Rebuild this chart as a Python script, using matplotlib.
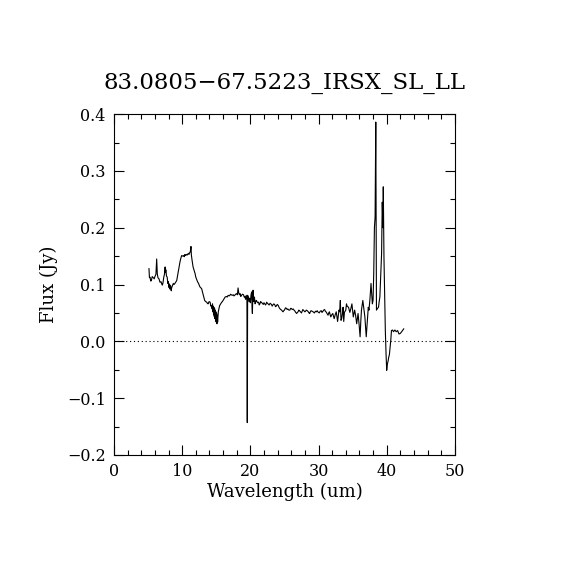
import numpy as np
import matplotlib
matplotlib.use("Agg")
import matplotlib.pyplot as plt
from matplotlib.ticker import MultipleLocator

title = "83.0805\u221267.5223_IRSX_SL_LL"

# spectrum (wavelength in um, flux in Jy)
wavelength = [
    5.13, 5.2, 5.28, 5.4, 5.5, 5.6, 5.77, 5.9, 6.0, 6.15, 6.26, 6.35, 6.45, 6.6, 6.75, 6.9,
    7.0, 7.1, 7.2, 7.3, 7.4, 7.5, 7.55, 7.6, 7.7, 7.8, 7.9, 7.96, 8.05, 8.15, 8.2, 8.3,
    8.4, 8.45, 8.55, 8.7, 8.8, 8.94, 9.05, 9.2, 9.3, 9.43, 9.55, 9.68, 9.8, 9.92, 10.05, 10.2,
    10.3, 10.4, 10.5, 10.65, 10.75, 10.9, 11.0, 11.1, 11.2, 11.29, 11.35, 11.45, 11.6, 11.75,
    11.9, 12.0, 12.1, 12.25, 12.4, 12.5, 12.6, 12.75, 12.85, 13.0, 13.1, 13.2, 13.3, 13.45,
    13.6, 13.7, 13.8, 13.95, 14.1, 14.2, 14.3, 14.4, 14.45, 14.5, 14.55, 14.6, 14.65, 14.7,
    14.75, 14.8, 14.85, 14.9, 14.95, 15.0, 15.05, 15.1, 15.15, 15.2, 15.3, 15.4, 15.5, 15.65,
    15.8, 15.9, 16.0, 16.15, 16.3, 16.5, 16.6, 16.75, 16.9, 17.0, 17.1, 17.2, 17.35, 17.5,
    17.6, 17.7, 17.85, 18.0, 18.1, 18.2, 18.3, 18.4, 18.5, 18.6, 18.7, 18.85, 19.0, 19.1,
    19.2, 19.3, 19.4, 19.5, 19.55, 19.6, 19.7, 19.8, 19.9, 20.0, 20.1, 20.2, 20.25, 20.3,
    20.35, 20.4, 20.5, 20.6, 20.7, 20.8, 20.9, 21.05, 21.2, 21.3, 21.4, 21.5, 21.6, 21.75,
    21.9, 22.0, 22.1, 22.25, 22.4, 22.5, 22.6, 22.75, 22.9, 23.0, 23.1, 23.2, 23.3, 23.45,
    23.6, 23.7, 23.8, 23.95, 24.1, 24.2, 24.3, 24.45, 24.6, 24.7, 24.8, 24.9, 25.0, 25.15,
    25.3, 25.4, 25.5, 25.65, 25.8, 25.9, 26.0, 26.15, 26.3, 26.4, 26.5, 26.65, 26.8, 26.9,
    27.0, 27.1, 27.2, 27.35, 27.5, 27.6, 27.7, 27.85, 28.0, 28.1, 28.2, 28.35, 28.5, 28.6,
    28.7, 28.8, 28.9, 29.05, 29.2, 29.3, 29.4, 29.55, 29.7, 29.8, 29.9, 30.0, 30.1, 30.25,
    30.4, 30.5, 30.6, 30.75, 30.9, 31.0, 31.1, 31.25, 31.4, 31.5, 31.6, 31.7, 31.8, 31.95,
    32.1, 32.2, 32.3, 32.45, 32.6, 32.7, 32.8, 32.9, 33.0, 33.1, 33.2, 33.3, 33.4, 33.5,
    33.6, 33.7, 33.8, 34.0, 34.1, 34.2, 34.4, 34.6, 34.75, 34.9, 35.0, 35.1, 35.3, 35.45,
    35.6, 35.8, 35.95, 36.1, 36.2, 36.3, 36.5, 36.65, 36.8, 36.9, 37.0, 37.15, 37.3, 37.4,
    37.55, 37.7, 37.8, 37.9, 38.0, 38.1, 38.2, 38.3, 38.4, 38.5, 38.65, 38.8, 38.9, 39.0,
    39.1, 39.25, 39.35, 39.45, 39.5, 39.6, 39.7, 39.8, 39.9, 40.0, 40.1, 40.2, 40.3, 40.4,
    40.5, 40.6, 40.7, 40.85, 41.0, 41.2, 41.4, 41.6, 41.8, 42.0, 42.2, 42.5,
]
flux = [
    0.128, 0.112, 0.113, 0.106, 0.108, 0.114, 0.112, 0.110, 0.114, 0.118, 0.145, 0.119, 0.112, 0.110, 0.104, 0.105,
    0.101, 0.099, 0.104, 0.113, 0.118, 0.131, 0.121, 0.126, 0.115, 0.113, 0.102, 0.105, 0.095, 0.101, 0.092, 0.098,
    0.089, 0.094, 0.097, 0.102, 0.100, 0.102, 0.104, 0.107, 0.114, 0.122, 0.131, 0.140, 0.146, 0.151, 0.150, 0.151,
    0.149, 0.153, 0.151, 0.153, 0.152, 0.155, 0.153, 0.156, 0.158, 0.167, 0.152, 0.143, 0.131, 0.125,
    0.119, 0.113, 0.110, 0.105, 0.102, 0.099, 0.096, 0.094, 0.093, 0.086, 0.081, 0.076, 0.072, 0.070,
    0.069, 0.067, 0.066, 0.070, 0.069, 0.062, 0.063, 0.057, 0.066, 0.052, 0.062, 0.048, 0.060, 0.044,
    0.058, 0.040, 0.055, 0.036, 0.052, 0.034, 0.049, 0.031, 0.046, 0.034, 0.052, 0.058, 0.063, 0.066,
    0.069, 0.070, 0.072, 0.075, 0.078, 0.079, 0.078, 0.081, 0.080, 0.081, 0.083, 0.082, 0.081, 0.082,
    0.080, 0.081, 0.083, 0.084, 0.082, 0.094, 0.085, 0.082, 0.084, 0.079, 0.081, 0.083, 0.082, 0.078,
    0.079, 0.074, 0.081, 0.072, -0.143, 0.081, 0.078, 0.070, 0.076, 0.068, 0.082, 0.087, 0.060, 0.049,
    0.075, 0.090, 0.070, 0.078, 0.066, 0.071, 0.072, 0.068, 0.069, 0.064, 0.066, 0.070, 0.069, 0.067,
    0.065, 0.068, 0.066, 0.064, 0.069, 0.067, 0.066, 0.064, 0.067, 0.066, 0.065, 0.062, 0.064, 0.066,
    0.064, 0.061, 0.062, 0.065, 0.063, 0.060, 0.058, 0.056, 0.055, 0.053, 0.052, 0.054, 0.055, 0.059,
    0.058, 0.056, 0.057, 0.055, 0.055, 0.058, 0.058, 0.056, 0.057, 0.055, 0.054, 0.051, 0.049, 0.051,
    0.052, 0.055, 0.054, 0.052, 0.050, 0.053, 0.056, 0.054, 0.052, 0.053, 0.055, 0.054, 0.052, 0.050,
    0.049, 0.052, 0.054, 0.053, 0.052, 0.051, 0.050, 0.053, 0.052, 0.054, 0.052, 0.051, 0.050, 0.053,
    0.054, 0.051, 0.052, 0.055, 0.056, 0.053, 0.052, 0.049, 0.046, 0.050, 0.052, 0.047, 0.043, 0.047,
    0.049, 0.044, 0.040, 0.047, 0.052, 0.043, 0.035, 0.045, 0.055, 0.052, 0.072, 0.037, 0.040, 0.049,
    0.060, 0.035, 0.051, 0.055, 0.066, 0.062, 0.060, 0.051, 0.058, 0.066, 0.055, 0.043, 0.055, 0.045,
    0.031, 0.049, 0.030, 0.008, 0.035, 0.055, 0.072, 0.058, 0.043, 0.025, 0.008, 0.035, 0.060, 0.055,
    0.075, 0.102, 0.085, 0.066, 0.072, 0.120, 0.200, 0.219, 0.386, 0.055, 0.058, 0.060, 0.070, 0.078,
    0.110, 0.154, 0.245, 0.200, 0.272, 0.148, 0.078, 0.019, -0.020, -0.051, -0.040, -0.035, -0.028, -0.023,
    -0.010, 0.002, 0.019, 0.020, 0.017, 0.020, 0.017, 0.019, 0.013, 0.014, 0.017, 0.022,
]

plt.rcParams['font.family'] = ['DejaVu Serif']

fig = plt.figure(figsize=(5.7, 5.7), dpi=100)
ax = fig.add_axes([0.2, 0.2018, 0.598, 0.598])

ax.plot(wavelength, flux, color='black', lw=0.8)
ax.axhline(0.0, color='black', lw=0.8, ls=(0, (1, 2.5)))

ax.set_xlim(0, 50)
ax.set_ylim(-0.2, 0.4)
ax.xaxis.set_major_locator(MultipleLocator(10))
ax.xaxis.set_minor_locator(MultipleLocator(2))
ax.yaxis.set_major_locator(MultipleLocator(0.1))
ax.yaxis.set_minor_locator(MultipleLocator(0.05))
ax.yaxis.set_major_formatter(plt.FuncFormatter(lambda v, p: f"{v:.1f}".replace("-", "\u2212")))
ax.tick_params(which='both', direction='in', top=True, right=True, labelsize=11.5, width=0.8)
ax.tick_params(which='major', length=7, pad=6)
ax.tick_params(which='minor', length=3.5)
for s in ax.spines.values():
    s.set_linewidth(0.8)

ax.set_xlabel("Wavelength (um)", fontsize=13, labelpad=2)
ax.set_ylabel("Flux (Jy)", fontsize=13, labelpad=6)
ax.set_title(title, fontsize=16.5, pad=18)

fig.savefig("out.png", dpi=100)
